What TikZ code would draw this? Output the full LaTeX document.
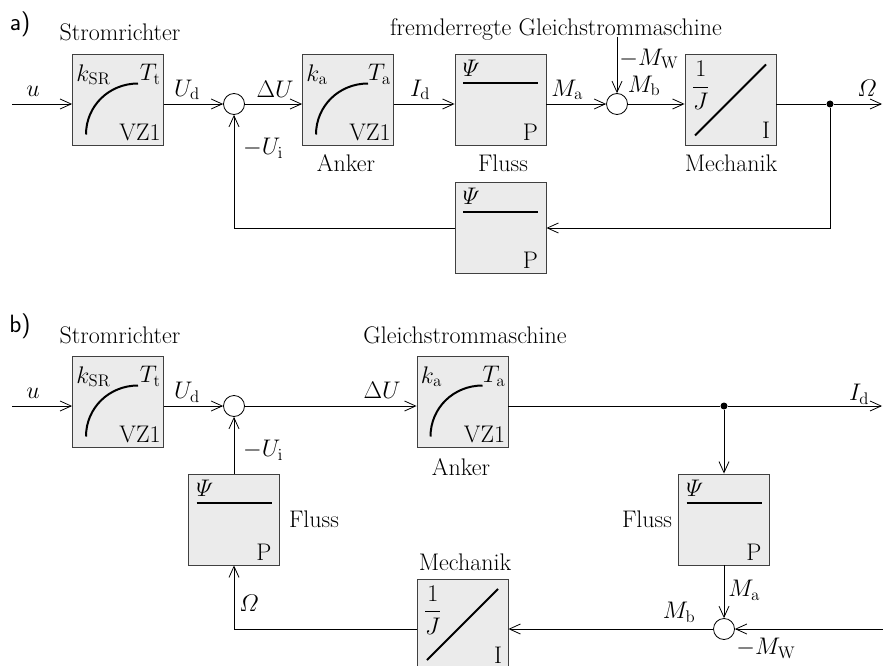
\RequirePackage{fix-cm}
\documentclass[tikz,border=0pt]{standalone}
\usepackage{amsmath}
\usetikzlibrary{arrows.meta,calc}

\tikzset{
  block/.style={draw=black!75, fill=black!8, line width=0.9pt, minimum width=91pt, minimum height=91pt, inner sep=0pt},
  summe/.style={circle, draw, fill=white, line width=0.8pt, minimum size=21pt, inner sep=0pt},
  punkt/.style={circle, fill, minimum size=7pt, inner sep=0pt},
  signal/.style={-{Straight Barb[length=11pt,width=10pt]}},
  kennlinie/.style={line width=2pt},
  eintrag/.style={inner sep=0pt},
  teil/.style={font=\sffamily\fontsize{25}{28}\selectfont},
}

% contents of the three kinds of blocks
\newcommand\vzinhalt[3]{%
  \node[eintrag, anchor=north west] (#1-k) at ($(#1.north west)+(4,10)$) {#2};
  \node[eintrag, anchor=north east] (#1-T) at ($(#1.north east)+(-3,10)$) {#3};
  \node[eintrag, anchor=south east] (#1-typ) at ($(#1.south east)+(-3,-5)$) {VZ1};
  \draw[kennlinie] ($(#1.center)+(-32,34.5)$) .. controls ($(#1.center)+(-32,6)$) and ($(#1.center)+(-9,-16.5)$) .. ($(#1.center)+(20,-16.5)$);
}
\newcommand\pinhalt[1]{%
  \node[eintrag, anchor=north west] (#1-psi) at ($(#1.north west)+(8,6)$) {$\varPsi$};
  \node[eintrag, anchor=south east] (#1-typ) at ($(#1.south east)+(-8,-5)$) {P};
  \draw[kennlinie] ($(#1.center)+(-37.5,-16.5)$) -- ($(#1.center)+(37.5,-16.5)$);
}
\newcommand\iinhalt[1]{%
  \node[eintrag, anchor=north west] (#1-J) at ($(#1.north west)+(7,7)$) {$\dfrac{1}{J}$};
  \node[eintrag, anchor=south east] (#1-typ) at ($(#1.south east)+(-6,-7)$) {I};
  \draw[kennlinie] ($(#1.center)+(-35.5,35.5)$) -- ($(#1.center)+(35.5,-35.5)$);
}

\begin{document}
\begin{tikzpicture}[x=1pt, y=-1pt, font=\fontsize{24}{28}\selectfont, line width=0.8pt]
  \useasboundingbox (0,0) rectangle (883,666);

  % a) fremderregte Gleichstrommaschine
  \node[teil] (tagA) at (20,24) {a)};
  \node (srtitelA) at (120,32) {Stromrichter};
  \node (gmtitelA) at (556,30) {fremderregte Gleichstrommaschine};

  \coordinate (inA) at (12,104);
  \node[block] (srA) at (118,100) {};
  \vzinhalt{srA}{$k_{\mathrm{SR}}$}{$T_{\mathrm{t}}$}
  \node[summe] (sumA1) at (234,104) {};
  \node[block] (ankA) at (348,100) {};
  \vzinhalt{ankA}{$k_{\mathrm{a}}$}{$T_{\mathrm{a}}$}
  \node[block] (flA) at (500.5,100) {};
  \pinhalt{flA}
  \node[summe] (sumA2) at (617,104) {};
  \coordinate (mwA) at (617,37);
  \node[block] (meA) at (730.5,100) {};
  \iinhalt{meA}
  \node[punkt] (dotA) at (830,104) {};
  \coordinate (outA) at (882,104);
  \node[block] (rueckA) at (500.5,228) {};
  \pinhalt{rueckA}

  \draw[signal] (inA) -- (inA -| srA.west);
  \draw[signal] (srA.east |- sumA1) -- (sumA1);
  \draw[signal] (sumA1) -- (ankA.west |- sumA1);
  \draw[signal] (ankA.east |- sumA1) -- (flA.west |- sumA1);
  \draw[signal] (flA.east |- sumA2) -- (sumA2);
  \draw[signal] (mwA) -- (sumA2);
  \draw[signal] (sumA2) -- (meA.west |- sumA2);
  \draw (meA.east |- dotA) -- (dotA);
  \draw[signal] (dotA) -- (outA);
  \draw[signal] (dotA) |- (rueckA.east);
  \draw[signal] (rueckA.west) -| (sumA1);

  \node (uA) at (33,91) {$u$};
  \node (udA) at (187,90) {$U_{\mathrm{d}}$};
  \node (duA) at (275,89) {$\Delta U$};
  \node (uiA) at (263,148) {$-U_{\mathrm{i}}$};
  \node (ankerA) at (346,163) {Anker};
  \node (idA) at (420,90) {$I_{\mathrm{d}}$};
  \node (flussA) at (503,163) {Fluss};
  \node (maA) at (567,90) {$M_{\mathrm{a}}$};
  \node[anchor=west, inner sep=2pt] (mwlA) at (617,59) {$-M_{\mathrm{W}}$};
  \node (mbA) at (644,86) {$M_{\mathrm{b}}$};
  \node (mechA) at (731,163) {Mechanik};
  \node (omA) at (867,88) {$\varOmega$};

  % b) Gleichstrommaschine, Rueckfuehrung ueber Mechanik
  \node[teil] (tagB) at (20,326) {b)};
  \node (srtitelB) at (120,335) {Stromrichter};
  \node (gmtitelB) at (465,335) {Gleichstrommaschine};

  \coordinate (inB) at (12,406);
  \node[block] (srB) at (118,402) {};
  \vzinhalt{srB}{$k_{\mathrm{SR}}$}{$T_{\mathrm{t}}$}
  \node[summe] (sumB1) at (234,406) {};
  \node[block] (ankB) at (462.5,402) {};
  \vzinhalt{ankB}{$k_{\mathrm{a}}$}{$T_{\mathrm{a}}$}
  \node[punkt] (dotB) at (724,406) {};
  \coordinate (outB) at (882,406);
  \node[block] (flB2) at (724,519.5) {};
  \pinhalt{flB2}
  \node[summe] (sumB2) at (724,629) {};
  \coordinate (mwB) at (883,629);
  \node[block] (meB) at (462.5,624.5) {};
  \iinhalt{meB}
  \node[block] (flB1) at (234,519.5) {};
  \pinhalt{flB1}

  \draw[signal] (inB) -- (inB -| srB.west);
  \draw[signal] (srB.east |- sumB1) -- (sumB1);
  \draw[signal] (sumB1) -- (ankB.west |- sumB1);
  \draw (ankB.east |- dotB) -- (dotB);
  \draw[signal] (dotB) -- (outB);
  \draw[signal] (dotB) -- (flB2);
  \draw[signal] (flB2) -- (sumB2);
  \draw[signal] (mwB) -- (sumB2);
  \draw[signal] (sumB2) -- (meB.east |- sumB2);
  \draw[signal] (meB.west |- sumB2) -| (flB1);
  \draw[signal] (flB1) -- (sumB1);

  \node (uB) at (33,393) {$u$};
  \node (udB) at (187,392) {$U_{\mathrm{d}}$};
  \node (uiB) at (263,450) {$-U_{\mathrm{i}}$};
  \node (duB) at (382,390) {$\Delta U$};
  \node (ankerB) at (461,467) {Anker};
  \node (idB) at (859,394) {$I_{\mathrm{d}}$};
  \node (fluss1B) at (314,519) {Fluss};
  \node (fluss2B) at (647,519) {Fluss};
  \node (maB) at (744,590) {$M_{\mathrm{a}}$};
  \node (mbB) at (679,612) {$M_{\mathrm{b}}$};
  \node (mwlB) at (766,648) {$-M_{\mathrm{W}}$};
  \node (mechB) at (465,562) {Mechanik};
  \node (omB) at (249,603) {$\varOmega$};
\end{tikzpicture}
\end{document}
